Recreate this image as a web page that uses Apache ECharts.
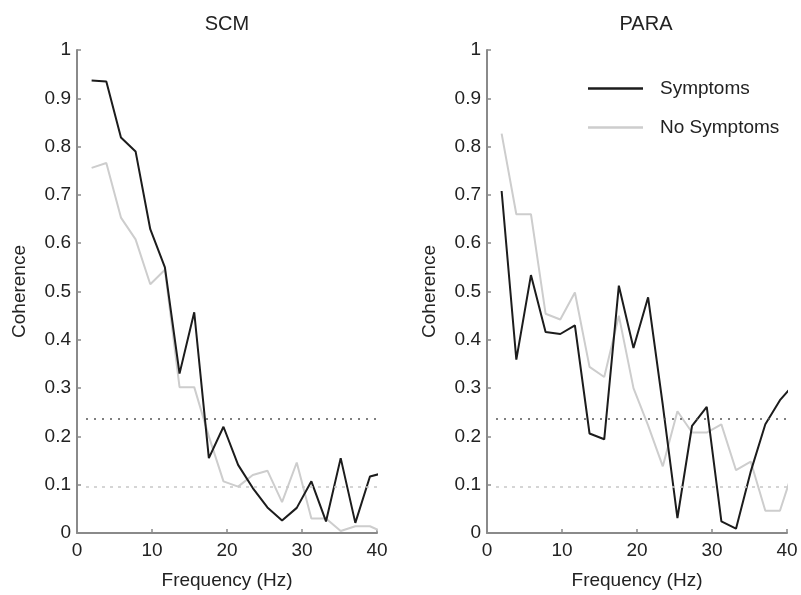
<!DOCTYPE html>
<html>
<head>
<meta charset="utf-8">
<script src="https://cdn.jsdelivr.net/npm/echarts@6/dist/echarts.min.js"></script>
<style>
  html, body { margin: 0; padding: 0; background: #fff; }
  #chart { width: 801px; height: 595px; }
</style>
</head>
<body>
<div id="chart"></div>
<script>
// frequency bins (Hz); last bin runs past 40 and is clipped by the axis
const freqs = [1.95, 3.91, 5.86, 7.81, 9.77, 11.72, 13.67, 15.63, 17.58, 19.53, 21.48,
  23.44, 25.39, 27.34, 29.30, 31.25, 33.20, 35.16, 37.11, 39.06, 41.02]

const scmSymptoms = [0.937, 0.935, 0.819, 0.790, 0.629, 0.550, 0.330, 0.457, 0.155, 0.220, 0.141,
  0.093, 0.053, 0.026, 0.052, 0.107, 0.024, 0.155, 0.021, 0.117, 0.125]
const scmNoSymptoms = [0.756, 0.766, 0.653, 0.608, 0.515, 0.545, 0.302, 0.302, 0.200, 0.107, 0.096,
  0.120, 0.129, 0.064, 0.146, 0.030, 0.030, 0.004, 0.014, 0.014, 0.000]
const paraSymptoms = [0.708, 0.359, 0.534, 0.416, 0.412, 0.430, 0.206, 0.194, 0.512, 0.383, 0.488,
  0.265, 0.031, 0.222, 0.261, 0.024, 0.009, 0.127, 0.225, 0.275, 0.310]
const paraNoSymptoms = [0.827, 0.660, 0.660, 0.454, 0.442, 0.498, 0.344, 0.323, 0.450, 0.300, 0.223,
  0.138, 0.252, 0.208, 0.208, 0.225, 0.130, 0.148, 0.046, 0.046, 0.140]

// significance thresholds
const thresholdSymptoms = 0.237
const thresholdNoSymptoms = 0.096
const thresholdStart = 1.2

const xTicks = [0, 10, 20, 30, 40]
const yTicks = [0, 0.1, 0.2, 0.3, 0.4, 0.5, 0.6, 0.7, 0.8, 0.9, 1]

const panelTitles = ['SCM', 'PARA']

const FONT = '"Liberation Sans", Arial, sans-serif'
const AXIS_GREY = '#8a8a8a'
const DARK = '#1c1c1c'
const LIGHT = '#cdcdcd'

const pair = (values) => freqs.map((f, i) => [f, values[i]])

function xAxis(gridIndex) {
  return {
    type: 'value',
    gridIndex,
    min: xTicks[0],
    max: xTicks[xTicks.length - 1],
    interval: 10,
    name: 'Frequency (Hz)',
    nameLocation: 'middle',
    nameGap: 38,
    nameTextStyle: { fontFamily: FONT, fontSize: 19, color: '#222' },
    axisLine: { lineStyle: { color: AXIS_GREY, width: 2 } },
    axisTick: { inside: true, length: 4, lineStyle: { color: AXIS_GREY, width: 1.5 } },
    axisLabel: { fontFamily: FONT, fontSize: 19, color: '#222', margin: 8 },
    splitLine: { show: false },
  }
}

function yAxis(gridIndex) {
  return {
    type: 'value',
    gridIndex,
    min: yTicks[0],
    max: yTicks[yTicks.length - 1],
    interval: 0.1,
    name: 'Coherence',
    nameLocation: 'middle',
    nameGap: 48,
    nameTextStyle: { fontFamily: FONT, fontSize: 19, color: '#222' },
    axisLine: { show: true, lineStyle: { color: AXIS_GREY, width: 2 } },
    axisTick: { show: true, inside: true, length: 4, lineStyle: { color: AXIS_GREY, width: 1.5 } },
    axisLabel: {
      fontFamily: FONT, fontSize: 19, color: '#222', margin: 6,
      formatter: (v) => String(Math.round(v * 10) / 10),
    },
    splitLine: { show: false },
  }
}

function thresholds() {
  return {
    silent: true,
    symbol: 'none',
    label: { show: false },
    data: [
      [
        { coord: [thresholdStart, thresholdSymptoms], lineStyle: { color: '#555', type: [2, 6], width: 1.5 } },
        { coord: [40, thresholdSymptoms] },
      ],
      [
        { coord: [thresholdStart, thresholdNoSymptoms], lineStyle: { color: '#c8c8c8', type: [3, 5], width: 1.5 } },
        { coord: [40, thresholdNoSymptoms] },
      ],
    ],
  }
}

function lineSeries(name, values, idx, color, withThresholds) {
  const s = {
    name,
    type: 'line',
    xAxisIndex: idx,
    yAxisIndex: idx,
    data: pair(values),
    symbol: 'none',
    lineStyle: { color, width: 2 },
    itemStyle: { color },
    z: name === 'Symptoms' ? 3 : 2,
    animation: false,
  }
  if (withThresholds) s.markLine = thresholds()
  return s
}

const chart = echarts.init(document.getElementById('chart'))

chart.setOption({
  backgroundColor: '#fff',
  animation: false,
  title: [
    { text: panelTitles[0], left: 222, top: 9, textAlign: 'center',
      textStyle: { fontFamily: FONT, fontSize: 20, fontWeight: 'normal', color: '#222' } },
    { text: panelTitles[1], left: 641, top: 9, textAlign: 'center',
      textStyle: { fontFamily: FONT, fontSize: 20, fontWeight: 'normal', color: '#222' } },
  ],
  legend: {
    orient: 'vertical',
    left: 583,
    top: 74,
    icon: 'rect',
    itemWidth: 55,
    itemHeight: 2.5,
    itemGap: 20,
    data: ['Symptoms', 'No Symptoms'],
    textStyle: { fontFamily: FONT, fontSize: 19, color: '#222', padding: [0, 0, 0, 12] },
  },
  grid: [
    { left: 77, top: 50, width: 300, height: 485 },
    { left: 487, top: 50, width: 300, height: 485 },
  ],
  xAxis: [xAxis(0), xAxis(1)],
  yAxis: [yAxis(0), yAxis(1)],
  series: [
    lineSeries('No Symptoms', scmNoSymptoms, 0, LIGHT, false),
    lineSeries('Symptoms', scmSymptoms, 0, DARK, true),
    lineSeries('No Symptoms', paraNoSymptoms, 1, LIGHT, false),
    lineSeries('Symptoms', paraSymptoms, 1, DARK, true),
  ],
})
</script>
</body>
</html>
